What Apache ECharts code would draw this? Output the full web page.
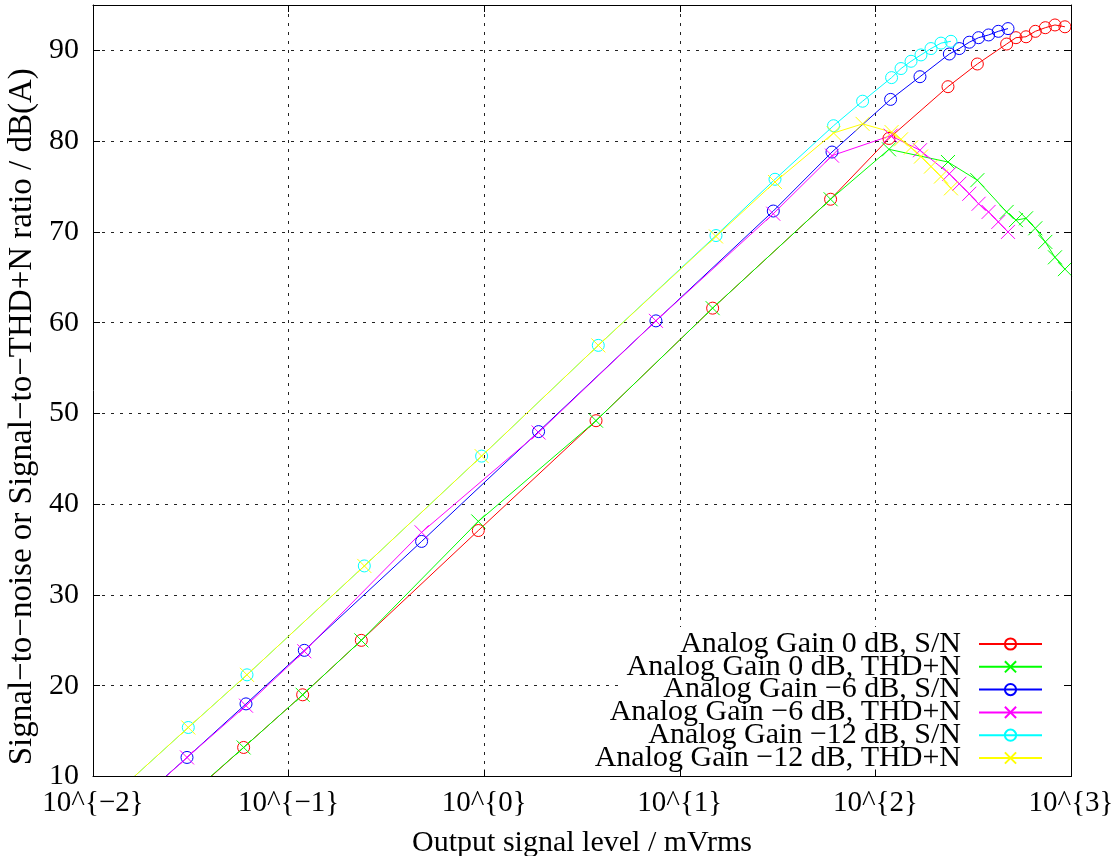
<!DOCTYPE html>
<html>
<head>
<meta charset="utf-8">
<script src="https://cdn.jsdelivr.net/npm/echarts@6/dist/echarts.min.js"></script>
<style>
  html, body { margin: 0; padding: 0; background: #fff; }
  #chart { width: 1112px; height: 856px; }
</style>
</head>
<body>
<div id="chart"></div>
<script>
// output level in mVrms, one entry per measured step
const level0 = [0.02943, 0.0589, 0.118, 0.2354, 0.933, 3.73, 14.72, 59.0, 117.3, 235, 332, 468.7, 523, 589, 657, 739, 828, 931]
const sn0 = [7.4, 13.2, 19.0, 25.0, 37.1, 49.2, 61.6, 73.6, 80.3, 86.0, 88.5, 90.7, 91.4, 91.5, 92.1, 92.5, 92.8, 92.6]
const thd0 = [7.5, 13.2, 19.0, 25.0, 38.1, 49.2, 61.6, 73.6, 79.1, 77.7, 75.7, 72.2, 71.3, 71.5, 70.4, 68.9, 67.2, 65.9]

const level6 = [0.0151, 0.03024, 0.06057, 0.1203, 0.4786, 1.897, 7.55, 30.06, 60.0, 119.6, 169.0, 238.8, 268.4, 302, 337, 379, 425, 476.4]
const sn6 = [6.3, 12.1, 18.0, 23.9, 35.9, 48.0, 60.2, 72.3, 78.8, 84.6, 87.1, 89.6, 90.2, 90.9, 91.4, 91.7, 92.1, 92.4]
const thd6 = [6.2, 12.1, 17.8, 23.8, 36.9, 47.9, 60.2, 72.0, 78.4, 80.6, 79.0, 76.4, 75.3, 74.2, 73.1, 72.2, 71.1, 70.0]

const level12 = [0.01533, 0.0307, 0.06128, 0.2438, 0.970, 3.83, 15.31, 30.67, 61.1, 86.0, 121.0, 135.2, 152.1, 171.0, 192.4, 216.4, 243.4]
const sn12 = [9.5, 15.4, 21.2, 33.2, 45.3, 57.5, 69.6, 75.8, 81.7, 84.4, 87.0, 88.0, 88.8, 89.5, 90.2, 90.8, 91.0]
const thd12 = [9.5, 15.4, 21.2, 33.2, 45.3, 57.5, 69.5, 75.5, 80.9, 81.9, 81.0, 80.2, 79.3, 78.3, 77.2, 76.1, 74.8]

const FONT = 'Liberation Serif'
const CROSS = 'path://M0,0L14,14M14,0L0,14'

function makeSeries(name, xs, ys, color, mark) {
  return {
    name: name,
    type: 'line',
    data: xs.map((x, i) => [x, ys[i]]),
    symbol: mark === 'o' ? 'circle' : CROSS,
    symbolSize: mark === 'o' ? 12 : 14,
    showAllSymbol: true,
    clip: true,
    lineStyle: { color: color, width: 1 },
    itemStyle: { color: 'rgba(0,0,0,0)', borderColor: color, borderWidth: 1 },
    emphasis: { disabled: true },
    z: 2
  }
}

const series = [
  makeSeries('Analog Gain 0 dB, S/N', level0, sn0, '#ff0000', 'o'),
  makeSeries('Analog Gain 0 dB, THD+N', level0, thd0, '#00ff00', 'x'),
  makeSeries('Analog Gain −6 dB, S/N', level6, sn6, '#0000ff', 'o'),
  makeSeries('Analog Gain −6 dB, THD+N', level6, thd6, '#ff00ff', 'x'),
  makeSeries('Analog Gain −12 dB, S/N', level12, sn12, '#00ffff', 'o'),
  makeSeries('Analog Gain −12 dB, THD+N', level12, thd12, '#ffff00', 'x')
]

// one legend per row so the keys line up on the right like gnuplot
const legends = series.map((s, i) => ({
  data: [s.name],
  orient: 'vertical',
  right: 69,
  top: 629 + i * 22.8,
  align: 'right',
  itemWidth: 63,
  itemHeight: 14,
  itemGap: 0,
  padding: 0,
  selectedMode: false,
  textStyle: { fontFamily: FONT, fontSize: 30, color: '#000', lineHeight: 24, padding: [0, 13, 0, 0] }
}))

const dotted = { show: true, lineStyle: { color: '#222', width: 1, type: [3, 6] } }
const frame = { show: true, onZero: false, lineStyle: { color: '#000', width: 1 } }
const ticks = { show: true, inside: true, length: 7, lineStyle: { color: '#000', width: 1 } }

function expLabel(v) {
  const e = Math.round(Math.log10(v))
  return '10^{' + (e < 0 ? '−' + (-e) : e) + '}'
}

let chart = echarts.init(document.getElementById('chart'), null, { renderer: 'canvas' })
chart.setOption({
  animation: false,
  backgroundColor: '#fff',
  grid: { left: 93, right: 41, top: 5, bottom: 79.5, outerBoundsMode: 'none', containLabel: false },
  xAxis: [
    {
      type: 'log', logBase: 10, min: 0.01, max: 1000, position: 'bottom', z: 3,
      axisLine: frame, axisTick: ticks, splitLine: { show: false }, minorTick: { show: false },
      axisLabel: { formatter: expLabel, fontFamily: FONT, fontSize: 29, color: '#000', margin: 12,
                   showMinLabel: true, showMaxLabel: true, hideOverlap: false },
      name: 'Output signal level / mVrms', nameLocation: 'middle', nameGap: 52, nameMoveOverlap: false,
      nameTextStyle: { fontFamily: FONT, fontSize: 30, color: '#000' }
    },
    {
      type: 'log', logBase: 10, min: 0.01, max: 1000, position: 'top', z: 0,
      axisLine: frame, axisTick: ticks, splitLine: dotted, axisLabel: { show: false }
    }
  ],
  yAxis: [
    {
      type: 'value', min: 10, max: 95, interval: 10, position: 'left', z: 0,
      axisLine: frame, axisTick: ticks, splitLine: dotted,
      axisLabel: { fontFamily: FONT, fontSize: 30, color: '#000', margin: 14, showMaxLabel: false },
      name: 'Signal−to−noise or Signal−to−THD+N ratio / dB(A)', nameLocation: 'middle', nameGap: 54,
      nameMoveOverlap: false,
      nameTextStyle: { fontFamily: FONT, fontSize: 33, color: '#000', padding: [0, 52, 0, 0] }
    },
    {
      type: 'value', min: 10, max: 95, interval: 10, position: 'right', z: 3,
      axisLine: frame, axisTick: ticks, splitLine: { show: false }, axisLabel: { show: false }
    }
  ],
  legend: legends,
  graphic: [
    { type: 'rect', left: 620, top: 627, z: 1, shape: { width: 449, height: 148 }, style: { fill: '#fff' } }
  ],
  series: series
})
</script>
</body>
</html>
